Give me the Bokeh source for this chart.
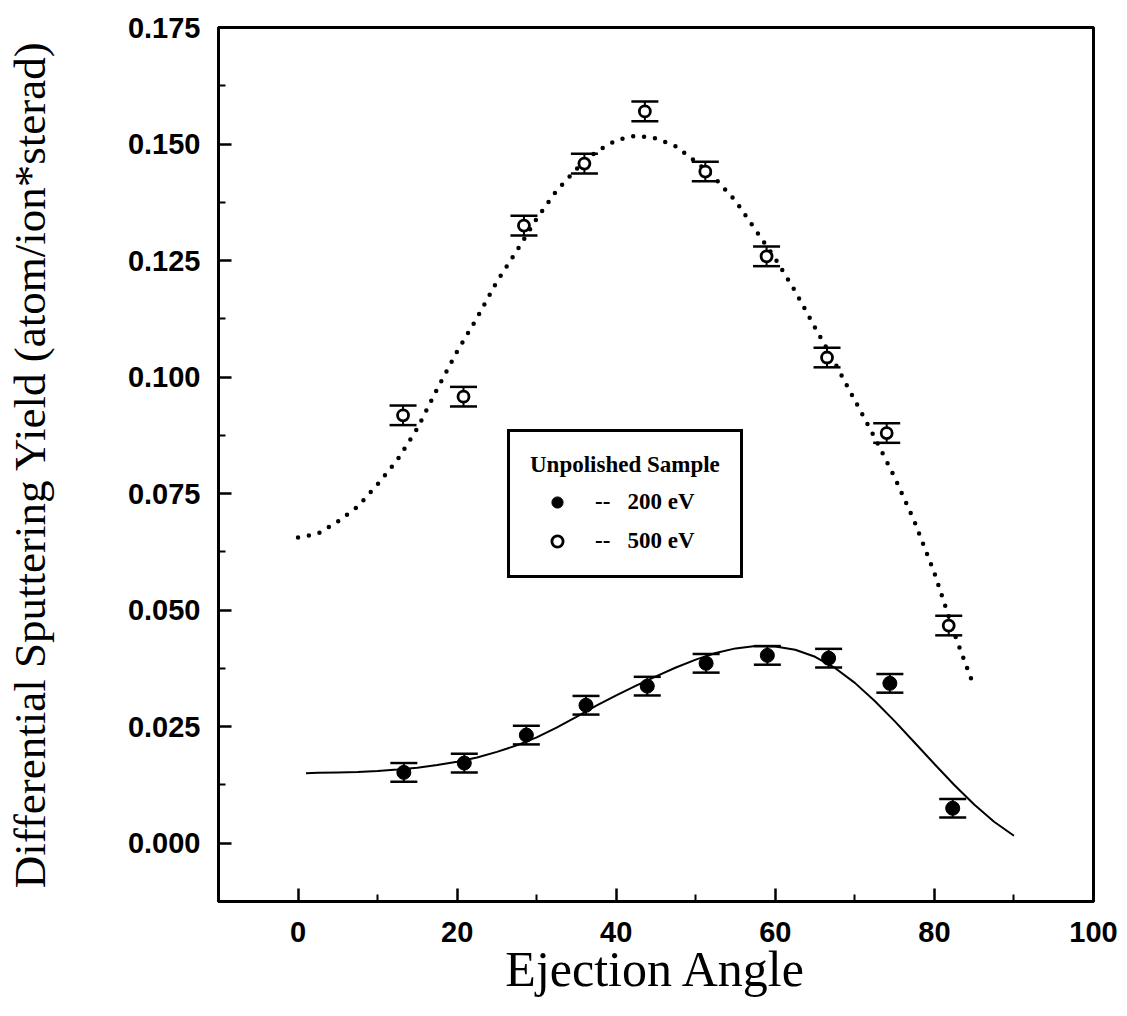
from bokeh.plotting import figure
from bokeh.models import (Range1d, FixedTicker, Whisker, TeeHead, ColumnDataSource,
                          Legend, LegendItem, NumeralTickFormatter)
from bokeh.embed import file_html
from bokeh.resources import INLINE

# ---- data ----
angle_200 = [13.3, 20.9, 28.7, 36.2, 43.9, 51.3, 59.0, 66.7, 74.4, 82.3]
yield_200 = [0.0152, 0.0172, 0.0232, 0.0296, 0.0337, 0.0386, 0.0403, 0.0397, 0.0343, 0.0075]
err_200 = [0.0020, 0.0020, 0.0020, 0.0020, 0.0020, 0.0020, 0.0020, 0.0020, 0.0020, 0.0020]

angle_500 = [13.2, 20.8, 28.4, 36.0, 43.6, 51.2, 58.9, 66.5, 74.0, 81.8]
yield_500 = [0.0918, 0.0958, 0.1325, 0.1458, 0.1570, 0.1441, 0.1259, 0.1042, 0.0880, 0.0467]
err_500 = [0.0021, 0.0021, 0.0021, 0.0021, 0.0021, 0.0021, 0.0021, 0.0021, 0.0021, 0.0021]

fit_500_x = [0, 2.5, 5, 7.5, 10, 12.5, 15, 17.5, 20, 22.5, 25, 27.5, 30, 32.5, 35, 37.5,
             40, 42.5, 45, 47.5, 50, 52.5, 55, 57.5, 60, 62.5, 65, 67.5, 70, 72.5, 75,
             77.5, 80, 82.5, 85]
fit_500_y = [0.0656, 0.0664, 0.0690, 0.0722, 0.0770, 0.0823, 0.0890, 0.0975, 0.1055, 0.1127,
             0.1205, 0.1271, 0.1340, 0.1400, 0.1446, 0.1484, 0.1508, 0.1518, 0.1512, 0.1495,
             0.1462, 0.1425, 0.1378, 0.1316, 0.1254, 0.1184, 0.1106, 0.1030, 0.0950, 0.0870,
             0.0785, 0.0690, 0.0580, 0.0450, 0.0335]

fit_200_x = [1, 2.5, 5, 7.5, 10, 12.5, 15, 17.5, 20, 22.5, 25, 27.5, 30, 32.5, 35, 37.5,
             40, 42.5, 45, 47.5, 50, 52.5, 55, 57.5, 60, 62.5, 65, 67.5, 70, 72.5, 75,
             77.5, 80, 82.5, 85, 87.5, 90]
fit_200_y = [0.0150, 0.0151, 0.0152, 0.0153, 0.0155, 0.0158, 0.0162, 0.0168, 0.0175, 0.0184,
             0.0196, 0.0210, 0.0227, 0.0248, 0.0271, 0.0295, 0.0317, 0.0338, 0.0358, 0.0377,
             0.0394, 0.0408, 0.0418, 0.0423, 0.0422, 0.0415, 0.0400, 0.0376, 0.0344, 0.0305,
             0.0262, 0.0216, 0.0170, 0.0125, 0.0083, 0.0046, 0.0016]

x_ticks = [0, 20, 40, 60, 80, 100]
x_minor = [10, 30, 50, 70, 90]
y_ticks = [0.0, 0.025, 0.05, 0.075, 0.1, 0.125, 0.15, 0.175]
y_minor = [0.0125, 0.0375, 0.0625, 0.0875, 0.1125, 0.1375, 0.1625]

legend_title = "Unpolished Sample"
label_200 = "--\u00a0\u00a0\u00a0200 eV"
label_500 = "--\u00a0\u00a0\u00a0500 eV"
x_title = "Ejection Angle"
y_title = "Differential Sputtering Yield (atom/ion*sterad)"

# ---- figure ----
p = figure(width=1127, height=1016, output_backend="svg", toolbar_location=None,
           x_range=Range1d(-10, 100), y_range=Range1d(-0.0125, 0.175),
           min_border_left=218, min_border_right=34, min_border_top=27, min_border_bottom=115)
p.background_fill_color = "white"
p.border_fill_color = "white"
p.outline_line_color = "black"
p.outline_line_alpha = 1
p.outline_line_width = 3
p.xgrid.visible = False
p.ygrid.visible = False

for ax in (p.xaxis[0], p.yaxis[0]):
    ax.axis_line_width = 3
    ax.axis_line_color = "black"
    ax.major_tick_in = 13
    ax.major_tick_out = 0
    ax.minor_tick_in = 7
    ax.minor_tick_out = 0
    ax.major_tick_line_width = 2.5
    ax.minor_tick_line_width = 2
    ax.major_label_text_font = "Liberation Sans"
    ax.major_label_text_font_style = "bold"
    ax.major_label_text_font_size = "29px"
    ax.major_label_text_color = "black"
    ax.axis_label_text_font = "Liberation Serif"
    ax.axis_label_text_font_style = "normal"
    ax.axis_label_text_color = "black"

p.xaxis[0].ticker = FixedTicker(ticks=x_ticks, minor_ticks=x_minor)
p.yaxis[0].ticker = FixedTicker(ticks=y_ticks, minor_ticks=y_minor)
p.yaxis[0].formatter = NumeralTickFormatter(format="0.000")
p.xaxis[0].major_label_standoff = 20
p.yaxis[0].major_label_standoff = 18
p.xaxis[0].axis_label = x_title
p.yaxis[0].axis_label = y_title
p.xaxis[0].axis_label_text_font_size = "50px"
p.yaxis[0].axis_label_text_font_size = "45px"
p.xaxis[0].axis_label_standoff = -4
p.yaxis[0].axis_label_standoff = 70

# fit curves
p.line(fit_500_x, fit_500_y, line_color="black", line_width=4.5, line_dash="0 11", line_cap="round")
p.line(fit_200_x, fit_200_y, line_color="black", line_width=2)

# error bars
src200 = ColumnDataSource(dict(x=angle_200,
                               upper=[v + e for v, e in zip(yield_200, err_200)],
                               lower=[v - e for v, e in zip(yield_200, err_200)]))
src500 = ColumnDataSource(dict(x=angle_500,
                               upper=[v + e for v, e in zip(yield_500, err_500)],
                               lower=[v - e for v, e in zip(yield_500, err_500)]))
for src in (src200, src500):
    w = Whisker(base="x", upper="upper", lower="lower", source=src, dimension="height",
                line_color="black", line_width=2,
                upper_head=TeeHead(size=27, line_width=2.5, line_color="black"),
                lower_head=TeeHead(size=27, line_width=2.5, line_color="black"))
    p.add_layout(w)

r200 = p.scatter(angle_200, yield_200, marker="circle", size=14,
                 fill_color="black", line_color="black", line_width=1)
r500 = p.scatter(angle_500, yield_500, marker="circle", size=11,
                 fill_color="white", line_color="black", line_width=2.8)

legend = Legend(items=[LegendItem(label=label_200, renderers=[r200]),
                       LegendItem(label=label_500, renderers=[r500])],
                title=legend_title, location=(289, 323))
legend.title_text_font = "Liberation Serif"
legend.title_text_font_style = "bold"
legend.title_text_font_size = "23px"
legend.title_text_color = "black"
legend.title_standoff = 10
legend.label_text_font = "Liberation Serif"
legend.label_text_font_style = "bold"
legend.label_text_font_size = "23px"
legend.label_text_color = "black"
legend.border_line_color = "black"
legend.border_line_alpha = 1
legend.border_line_width = 3
legend.background_fill_color = "white"
legend.background_fill_alpha = 1
legend.padding = 20
legend.spacing = 11
legend.glyph_height = 28
legend.glyph_width = 54
legend.label_height = 28
legend.label_standoff = 11
legend.margin = 0
p.add_layout(legend)

open("out.html", "w").write(file_html(p, INLINE))
